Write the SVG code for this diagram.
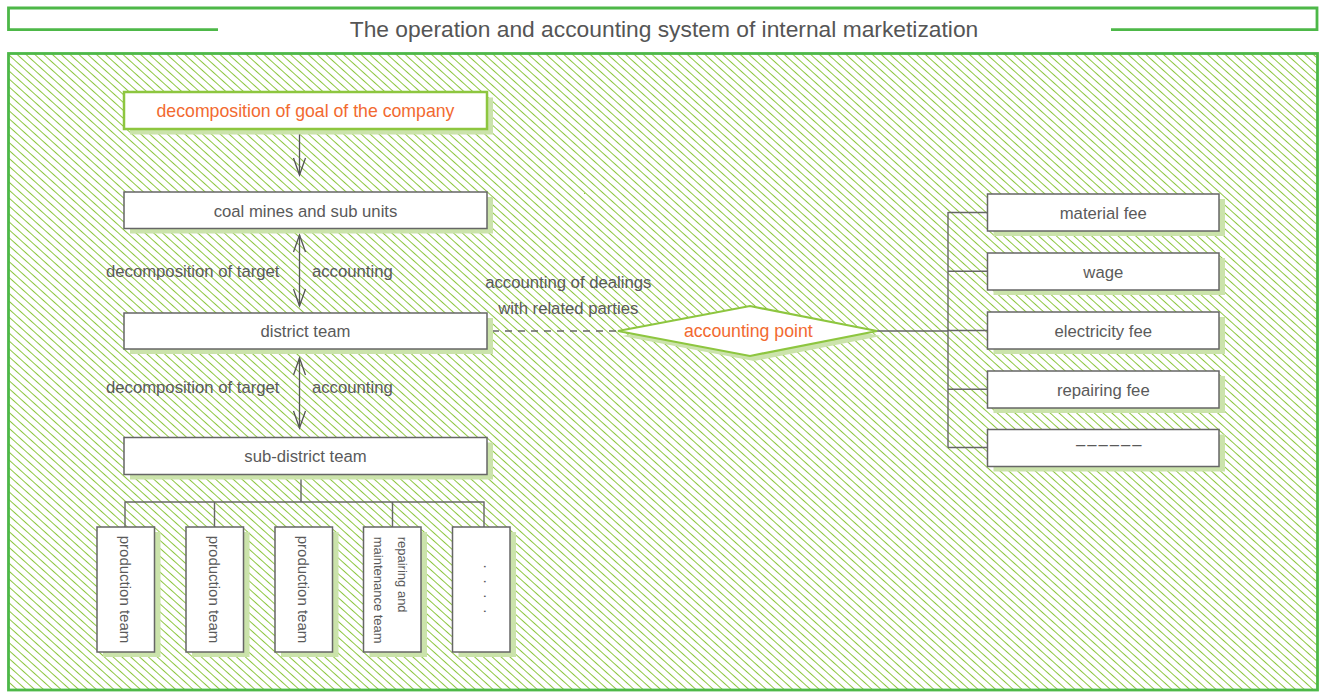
<svg xmlns="http://www.w3.org/2000/svg" width="1320" height="693" viewBox="0 0 1320 693">
<style>
.frame{fill:none;stroke:#4db848;stroke-width:2.8}
.box{fill:#fff;stroke:#666;stroke-width:1.5}
.gbox{fill:#fff;stroke:#8dc63f;stroke-width:2.5}
.sh{fill:#cbe3ab}
.t{font-family:"Liberation Sans",Arial,sans-serif;font-size:16.7px;fill:#5a5a5a}
.tc{text-anchor:middle}
.o{font-family:"Liberation Sans",Arial,sans-serif;font-size:17.7px;fill:#f26a30;text-anchor:middle}
.v{font-family:"Liberation Sans",Arial,sans-serif;font-size:15px;fill:#5a5a5a}
.vs{font-size:13px}
.ln{fill:none;stroke:#666;stroke-width:1.4}
.ar{fill:none;stroke:#555;stroke-width:1.3;marker-end:url(#ah)}
.ar2{fill:none;stroke:#555;stroke-width:1.3;marker-start:url(#ah);marker-end:url(#ah)}
</style>
<defs>
<pattern id="hatch" patternUnits="userSpaceOnUse" width="5.9" height="10" patternTransform="rotate(-48)">
<line x1="0.5" y1="-1" x2="0.5" y2="11" stroke="#8dc63f" stroke-width="1" shape-rendering="crispEdges"/>
</pattern>
<marker id="ah" markerUnits="userSpaceOnUse" markerWidth="20" markerHeight="14" refX="17" refY="6" orient="auto-start-reverse" overflow="visible">
<path d="M0,0 L17,6 L0,12" fill="none" stroke="#555" stroke-width="1.3"/>
</marker>
</defs>
<rect width="1320" height="693" fill="#fff"/>
<g id="header">
<path class="frame" d="M218,29.7 H8.5 V8 H1317 V29.7 H1111"/>
<text x="664" y="37.3" text-anchor="middle" font-family="'Liberation Sans',Arial,sans-serif" font-size="22.8" fill="#555">The operation and accounting system of internal marketization</text>
</g>
<g id="mainframe">
<rect x="8.5" y="53.5" width="1309" height="636.5" fill="url(#hatch)"/>
<rect x="8.5" y="53.5" width="1309" height="636.5" class="frame"/>
</g>
<g id="connectors">
<line class="ar" x1="299.5" y1="130" x2="299.5" y2="175"/>
<line class="ar2" x1="299.5" y1="235" x2="299.5" y2="306"/>
<line class="ar2" x1="299.5" y1="358" x2="299.5" y2="428"/>
<path class="ln" d="M301,474.5 V502 M125,527 V502 H484 V527 M214.5,502 V527 M392.5,502 V527"/>
<line x1="492" y1="331" x2="618" y2="331" stroke="#666" stroke-width="1.4" stroke-dasharray="7 6"/>
<path class="ln" d="M877,331 H948 M948,212 V447.5 M948,212.5 H987.5 M948,271.3 H987.5 M948,330.5 H987.5 M948,389.2 H987.5 M948,447.5 H987.5"/>
<text class="t" x="106" y="276.7">decomposition of target</text>
<text class="t" x="312" y="276.7">accounting</text>
<text class="t" x="106" y="393.3">decomposition of target</text>
<text class="t" x="312" y="393.3">accounting</text>
<text class="t tc" x="568.3" y="288.3">accounting of dealings</text>
<text class="t tc" x="568.3" y="314">with related parties</text>
</g>
<g id="goal">
<rect class="sh" x="130" y="97.5" width="363" height="37"/>
<rect class="gbox" x="124" y="92" width="363" height="37"/>
<text class="o" x="305.5" y="116.7">decomposition of goal of the company</text>
</g>
<g id="coal">
<rect class="sh" x="130" y="197" width="363" height="36.5"/>
<rect class="box" x="124" y="192" width="363" height="36.5"/>
<text class="t tc" x="305.5" y="216.7">coal mines and sub units</text>
</g>
<g id="district">
<rect class="sh" x="130" y="318" width="363" height="36"/>
<rect class="box" x="124" y="313" width="363" height="36"/>
<text class="t tc" x="305.5" y="337">district team</text>
</g>
<g id="subdistrict">
<rect class="sh" x="130" y="442.5" width="363" height="37"/>
<rect class="box" x="124" y="437.5" width="363" height="37"/>
<text class="t tc" x="305.5" y="462">sub-district team</text>
</g>
<g id="team1">
<rect class="sh" x="103" y="532" width="57.5" height="125"/>
<rect class="box" x="97" y="527" width="57.5" height="125"/>
<text class="v" text-anchor="middle" transform="translate(125.7,589.5) rotate(90)" y="6">production team</text>
</g>
<g id="team2">
<rect class="sh" x="192" y="532" width="57.5" height="125"/>
<rect class="box" x="186" y="527" width="57.5" height="125"/>
<text class="v" text-anchor="middle" transform="translate(214.7,589.5) rotate(90)" y="6">production team</text>
</g>
<g id="team3">
<rect class="sh" x="281" y="532" width="57.5" height="125"/>
<rect class="box" x="275" y="527" width="57.5" height="125"/>
<text class="v" text-anchor="middle" transform="translate(303.7,589.5) rotate(90)" y="6">production team</text>
</g>
<g id="team4">
<rect class="sh" x="369.5" y="532" width="57.5" height="125"/>
<rect class="box" x="363.5" y="527" width="57.5" height="125"/>
<text class="v vs" transform="translate(392.2,536.7) rotate(90)"><tspan x="0" y="-5.5">repairing and</tspan><tspan x="0" y="18.5">maintenance team</tspan></text>
</g>
<g id="team5">
<rect class="sh" x="458.5" y="532" width="57.5" height="125"/>
<rect class="box" x="452.5" y="527" width="57.5" height="125"/>
<text class="v" letter-spacing="3.3" transform="translate(481,564.5) rotate(90)" y="-2.5">. . . .</text>
</g>
<g id="accpoint">
<polygon class="sh" points="622,336 754,311 881,336 754,361"/>
<polygon points="618,331 750,306 877,331 750,356" fill="#fff" stroke="#8dc63f" stroke-width="2.2"/>
<text class="o" x="748.3" y="337.3">accounting point</text>
</g>
<g id="material">
<rect class="sh" x="993.5" y="199" width="231.5" height="37"/>
<rect class="box" x="987.5" y="194" width="231.5" height="37"/>
<text class="t tc" x="1103.3" y="218.5">material fee</text>
</g>
<g id="wage">
<rect class="sh" x="993.5" y="258" width="231.5" height="37"/>
<rect class="box" x="987.5" y="253" width="231.5" height="37"/>
<text class="t tc" x="1103.3" y="277.5">wage</text>
</g>
<g id="electricity">
<rect class="sh" x="993.5" y="317" width="231.5" height="37"/>
<rect class="box" x="987.5" y="312" width="231.5" height="37"/>
<text class="t tc" x="1103.3" y="336.5">electricity fee</text>
</g>
<g id="repairing">
<rect class="sh" x="993.5" y="376" width="231.5" height="37"/>
<rect class="box" x="987.5" y="371" width="231.5" height="37"/>
<text class="t tc" x="1103.3" y="395.5">repairing fee</text>
</g>
<g id="others">
<rect class="sh" x="993.5" y="434.5" width="231.5" height="37"/>
<rect class="box" x="987.5" y="429.5" width="231.5" height="37"/>
<text class="t tc" x="1109.8" y="450" fill="#777" letter-spacing="2">––––––</text>
</g>
</svg>
